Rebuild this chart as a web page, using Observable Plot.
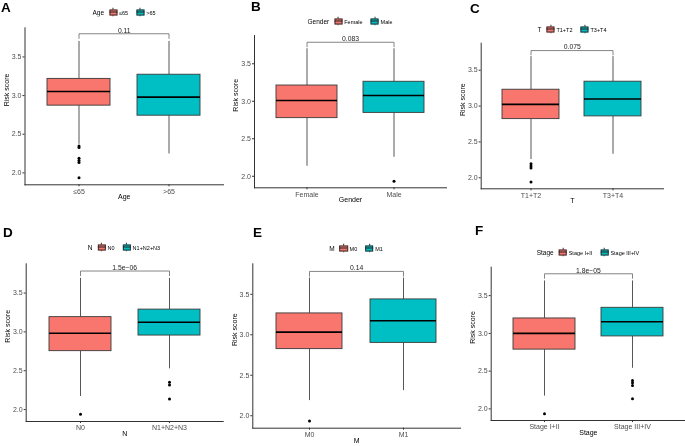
<!DOCTYPE html>
<html>
<head>
<meta charset="utf-8">
<script src="https://cdn.jsdelivr.net/npm/d3@7"></script>
<script src="https://cdn.jsdelivr.net/npm/@observablehq/plot@0.6"></script>
<style>
  html, body { margin: 0; padding: 0; background: #fff; }
  #root { position: relative; width: 685px; height: 446px; overflow: hidden; background: #fff;
          font-family: "Liberation Sans", Arial, sans-serif; }
  #root svg { position: absolute; overflow: visible; will-change: transform; }
  .letter { position: absolute; font-weight: bold; font-size: 13.5px; line-height: 13.5px; color: #000; }
  .legend { position: absolute; display: flex; align-items: center; transform: translate(-50%, -50%); white-space: nowrap; color: #000; will-change: transform; }
  .legend .ttl { font-size: 6.5px; margin-right: 5px; }
  .legend .lab { font-size: 5.5px; margin-left: 2px; margin-right: 8px; }
  .legend .lab:last-child { margin-right: 0; }
  .glyph { position: relative; display: inline-block; width: 8px; height: 9px; }
  .glyph .wh { position: absolute; left: 3.6px; top: 0; width: 0.8px; height: 9px; background: #333; }
  .glyph .bx { position: absolute; left: 0; top: 1.5px; width: 6.4px; height: 4.4px; border: 0.8px solid #333; }
  .glyph .md { position: absolute; left: 0; top: 4.1px; width: 8px; height: 0.8px; background: #222; }
</style>
</head>
<body>
<div id="root"></div>
<script>
// ---------------- data ----------------
const panelLetters = ["A", "B", "C", "D", "E", "F"];
const groupTitles = ["Age", "Gender", "T", "N", "M", "Stage"];
const categories = [
  ["≤65", ">65"],
  ["Female", "Male"],
  ["T1+T2", "T3+T4"],
  ["N0", "N1+N2+N3"],
  ["M0", "M1"],
  ["Stage I+II", "Stage III+IV"]
];
const q1Values = [[2.87, 2.74], [2.775, 2.845], [2.818, 2.856], [2.752, 2.953], [2.823, 2.90], [2.785, 2.96]];
const medianValues = [[3.052, 2.98], [3.01, 3.076], [3.024, 3.098], [2.983, 3.125], [3.033, 3.173], [3.0, 3.154]];
const q3Values = [[3.216, 3.27], [3.21, 3.26], [3.228, 3.34], [3.19, 3.287], [3.264, 3.437], [3.198, 3.339]];
const whiskerLow = [[2.37, 2.245], [2.133, 2.253], [2.254, 2.328], [2.168, 2.524], [2.187, 2.31], [2.169, 2.538]];
const whiskerHigh = [[3.70, 3.70], [3.70, 3.70], [3.69, 3.69], [3.69, 3.69], [3.70, 3.70], [3.695, 3.695]];
const outlierValues = [
  [[2.347, 2.328, 2.19, 2.16, 2.134, 1.936], []],
  [[], [1.933]],
  [[2.197, 2.163, 2.135, 1.94], []],
  [[1.94], [2.353, 2.315, 2.135]],
  [[1.936], []],
  [[1.936], [2.376, 2.346, 2.31, 2.135]]
];
const bracketY = [3.80, 3.787, 3.774, 3.784, 3.783, 3.79];
const pValues = ["0.11", "0.083", "0.075", "1.5e\u221206", "0.14", "1.8e\u221205"];
const yTicks = [2.0, 2.5, 3.0, 3.5];
const yDomain = [1.846, 3.877];
const groupColors = ["#F8766D", "#00BFC4"];
const yTitle = "Risk score";

// ---------------- layout ----------------
const layout = [
  {left: 0,   top: 0,   w: 228, h: 220, mL: 24.5, mT: 27.3, mR: 5,   mB: 35.7, legY: 12.3,  letter: [1, 0.5]},
  {left: 228, top: 0,   w: 228, h: 220, mL: 26,   mT: 35,   mR: 10,  mB: 32.7, legY: 20.7,  letter: [251, -0.5]},
  {left: 456, top: 0,   w: 229, h: 220, mL: 24.7, mT: 42.7, mR: 22,  mB: 31.7, legY: 29.3,  letter: [470, 1.5]},
  {left: 0,   top: 220, w: 228, h: 226, mL: 25.7, mT: 43.3, mR: 5.3, mB: 25,   legY: 247.3, letter: [3, 225.5]},
  {left: 228, top: 220, w: 232, h: 226, mL: 24.3, mT: 43.3, mR: 0,   mB: 18.3, legY: 248.3, letter: [253, 226]},
  {left: 456, top: 220, w: 229, h: 226, mL: 34.7, mT: 46.7, mR: 0,   mB: 26,   legY: 251.7, letter: [475, 223.8]}
];

const root = document.getElementById("root");
const tip = 0.06;

function makePanel(i) {
  const cats = categories[i];
  const L = layout[i];
  const boxes = cats.map((c, j) => ({
    cat: c, q1: q1Values[i][j], med: medianValues[i][j], q3: q3Values[i][j],
    lo: whiskerLow[i][j], hi: whiskerHigh[i][j]
  }));
  const outs = cats.flatMap((c, j) => outlierValues[i][j].map(v => ({cat: c, v})));
  const b = bracketY[i];
  const bracket = [
    {cat: cats[0], y: b - tip}, {cat: cats[0], y: b},
    {cat: cats[1], y: b}, {cat: cats[1], y: b - tip}
  ];
  const svg = Plot.plot({
    width: L.w, height: L.h,
    marginLeft: L.mL, marginTop: L.mT, marginRight: L.mR, marginBottom: L.mB,
    style: {fontFamily: '"Liberation Sans", Arial, sans-serif', fontSize: "7px", background: "transparent", overflow: "visible"},
    x: {type: "band", domain: cats, paddingInner: 0.3, paddingOuter: 0.25},
    y: {domain: yDomain},
    color: {domain: cats, range: groupColors},
    marks: [
      Plot.ruleX(boxes, {x: "cat", y1: "lo", y2: "q1", stroke: "#444", strokeWidth: 0.9}),
      Plot.ruleX(boxes, {x: "cat", y1: "q3", y2: "hi", stroke: "#444", strokeWidth: 0.9}),
      Plot.barY(boxes, {x: "cat", y1: "q1", y2: "q3", fill: "cat", stroke: "#3a3a3a", strokeWidth: 0.9}),
      Plot.tickY(boxes, {x: "cat", y: "med", stroke: "#000", strokeWidth: 1.6}),
      Plot.dot(outs, {x: "cat", y: "v", r: 1.5, fill: "#000", stroke: null}),
      Plot.line(bracket, {x: "cat", y: "y", stroke: "#777", strokeWidth: 0.9}),
      Plot.text([{y: b, p: pValues[i]}], {y: "y", text: "p", lineAnchor: "bottom", dy: -1.2, fontSize: 6.8, fill: "#222"}),
      Plot.axisY({ticks: yTicks, tickFormat: d3.format(".1f"), tickSize: 2, tickPadding: 1.5, label: null, fill: "#4d4d4d", stroke: "#333"}),
      Plot.axisX({tickSize: 2, tickPadding: 2, label: null, fill: "#4d4d4d", stroke: "#333"}),
      Plot.frame({anchor: "left", stroke: "#333", strokeWidth: 1}),
      Plot.frame({anchor: "bottom", stroke: "#333", strokeWidth: 1}),
      Plot.text([groupTitles[i]], {text: d => d, frameAnchor: "bottom", dy: 14.5, fontSize: 7, fill: "#000"}),
      Plot.text([yTitle], {text: d => d, frameAnchor: "left", dx: -18.5, rotate: -90, fontSize: 7, fill: "#000"})
    ]
  });
  svg.style.left = L.left + "px";
  svg.style.top = L.top + "px";
  root.appendChild(svg);

  // panel letter
  const letter = document.createElement("div");
  letter.className = "letter";
  letter.textContent = panelLetters[i];
  letter.style.left = L.letter[0] + "px";
  letter.style.top = L.letter[1] + "px";
  root.appendChild(letter);

  // legend
  const leg = document.createElement("div");
  leg.className = "legend";
  leg.style.left = (L.left + L.mL + (L.w - L.mL - L.mR) / 2) + "px";
  leg.style.top = L.legY + "px";
  const ttl = document.createElement("span");
  ttl.className = "ttl";
  ttl.textContent = groupTitles[i];
  leg.appendChild(ttl);
  cats.forEach((c, j) => {
    const g = document.createElement("span");
    g.className = "glyph";
    g.innerHTML = '<span class="wh"></span><span class="bx" style="background:' + groupColors[j] + '"></span><span class="md"></span>';
    leg.appendChild(g);
    const lab = document.createElement("span");
    lab.className = "lab";
    lab.textContent = c;
    leg.appendChild(lab);
  });
  root.appendChild(leg);
}

for (let i = 0; i < 6; i++) makePanel(i);
</script>
</body>
</html>
